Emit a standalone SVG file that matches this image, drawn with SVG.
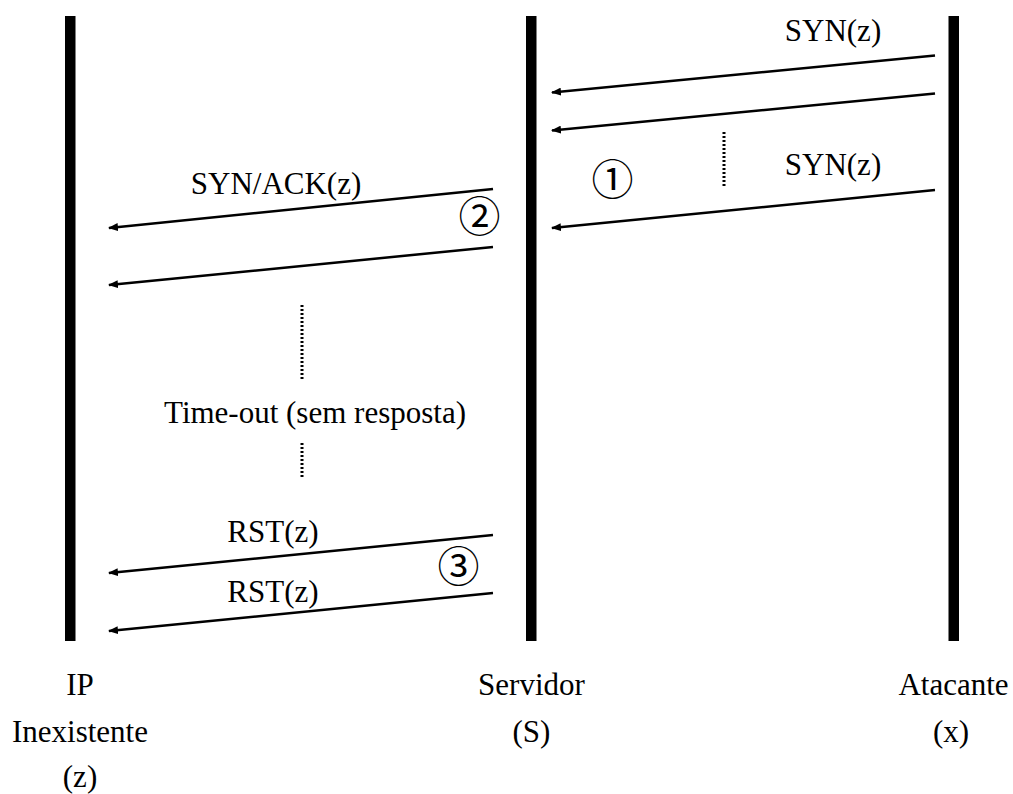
<svg xmlns="http://www.w3.org/2000/svg" width="1013" height="794" viewBox="0 0 1013 794">
  <style>
    .lbl { font-family: "Liberation Serif", "Times New Roman", serif; font-size: 31px; fill: #000; }
    .mid { text-anchor: middle; }
    .num { font-family: "Noto Sans CJK JP", "DejaVu Sans", sans-serif; font-size: 42px; fill: #000; text-anchor: middle; }
    .life { fill: #000; }
    .msg { stroke: #000; stroke-width: 2.5; fill: none; marker-end: url(#head); }
    .dots { stroke: #000; stroke-width: 3; stroke-dasharray: 2 2; fill: none; }
  </style>
  <defs>
    <marker id="head" viewBox="0 0 10 8" refX="9" refY="4" markerWidth="10" markerHeight="8" markerUnits="userSpaceOnUse" orient="auto">
      <path d="M0,0 L10,4 L0,8 Z" fill="#000"/>
    </marker>
  </defs>

  <!-- lifeline: non-existent IP -->
  <g id="node-ip">
    <rect class="life" x="65" y="16" width="10.5" height="625"/>
    <text class="lbl mid" x="80" y="695">IP</text>
    <text class="lbl mid" x="80" y="742">Inexistente</text>
    <text class="lbl mid" x="80" y="787">(z)</text>
  </g>

  <!-- lifeline: server -->
  <g id="node-servidor">
    <rect class="life" x="526" y="16" width="10.5" height="625"/>
    <text class="lbl mid" x="531.5" y="695">Servidor</text>
    <text class="lbl mid" x="531.5" y="742">(S)</text>
  </g>

  <!-- lifeline: attacker -->
  <g id="node-atacante">
    <rect class="life" x="948.5" y="16" width="10.5" height="625"/>
    <text class="lbl mid" x="953.5" y="695">Atacante</text>
    <text class="lbl mid" x="951" y="742">(x)</text>
  </g>

  <!-- messages -->
  <g id="connectors">
    <line class="msg" x1="935" y1="55.5" x2="552" y2="92.5"/>
    <line class="msg" x1="935" y1="93.5" x2="552" y2="130.5"/>
    <line class="msg" x1="935" y1="190" x2="552" y2="228"/>
    <line class="msg" x1="493" y1="189" x2="109" y2="228"/>
    <line class="msg" x1="493" y1="247" x2="109" y2="285"/>
    <line class="msg" x1="493" y1="535" x2="109" y2="573"/>
    <line class="msg" x1="493" y1="593" x2="109" y2="631"/>
    <line class="dots" x1="724" y1="132" x2="724" y2="187"/>
    <line class="dots" x1="302" y1="305" x2="302" y2="380"/>
    <line class="dots" x1="302" y1="443" x2="302" y2="477"/>
  </g>

  <!-- message labels -->
  <g id="labels">
    <text class="lbl mid" x="833" y="41">SYN(z)</text>
    <text class="lbl mid" x="833" y="175">SYN(z)</text>
    <text class="lbl mid" x="276" y="194">SYN/ACK(z)</text>
    <text class="lbl mid" x="315" y="423">Time-out (sem resposta)</text>
    <text class="lbl mid" x="273" y="542">RST(z)</text>
    <text class="lbl mid" x="273" y="602">RST(z)</text>
    <text class="num" x="612.5" y="194.5">①</text>
    <text class="num" x="479.5" y="232">②</text>
    <text class="num" x="458.5" y="581.5">③</text>
  </g>
</svg>
